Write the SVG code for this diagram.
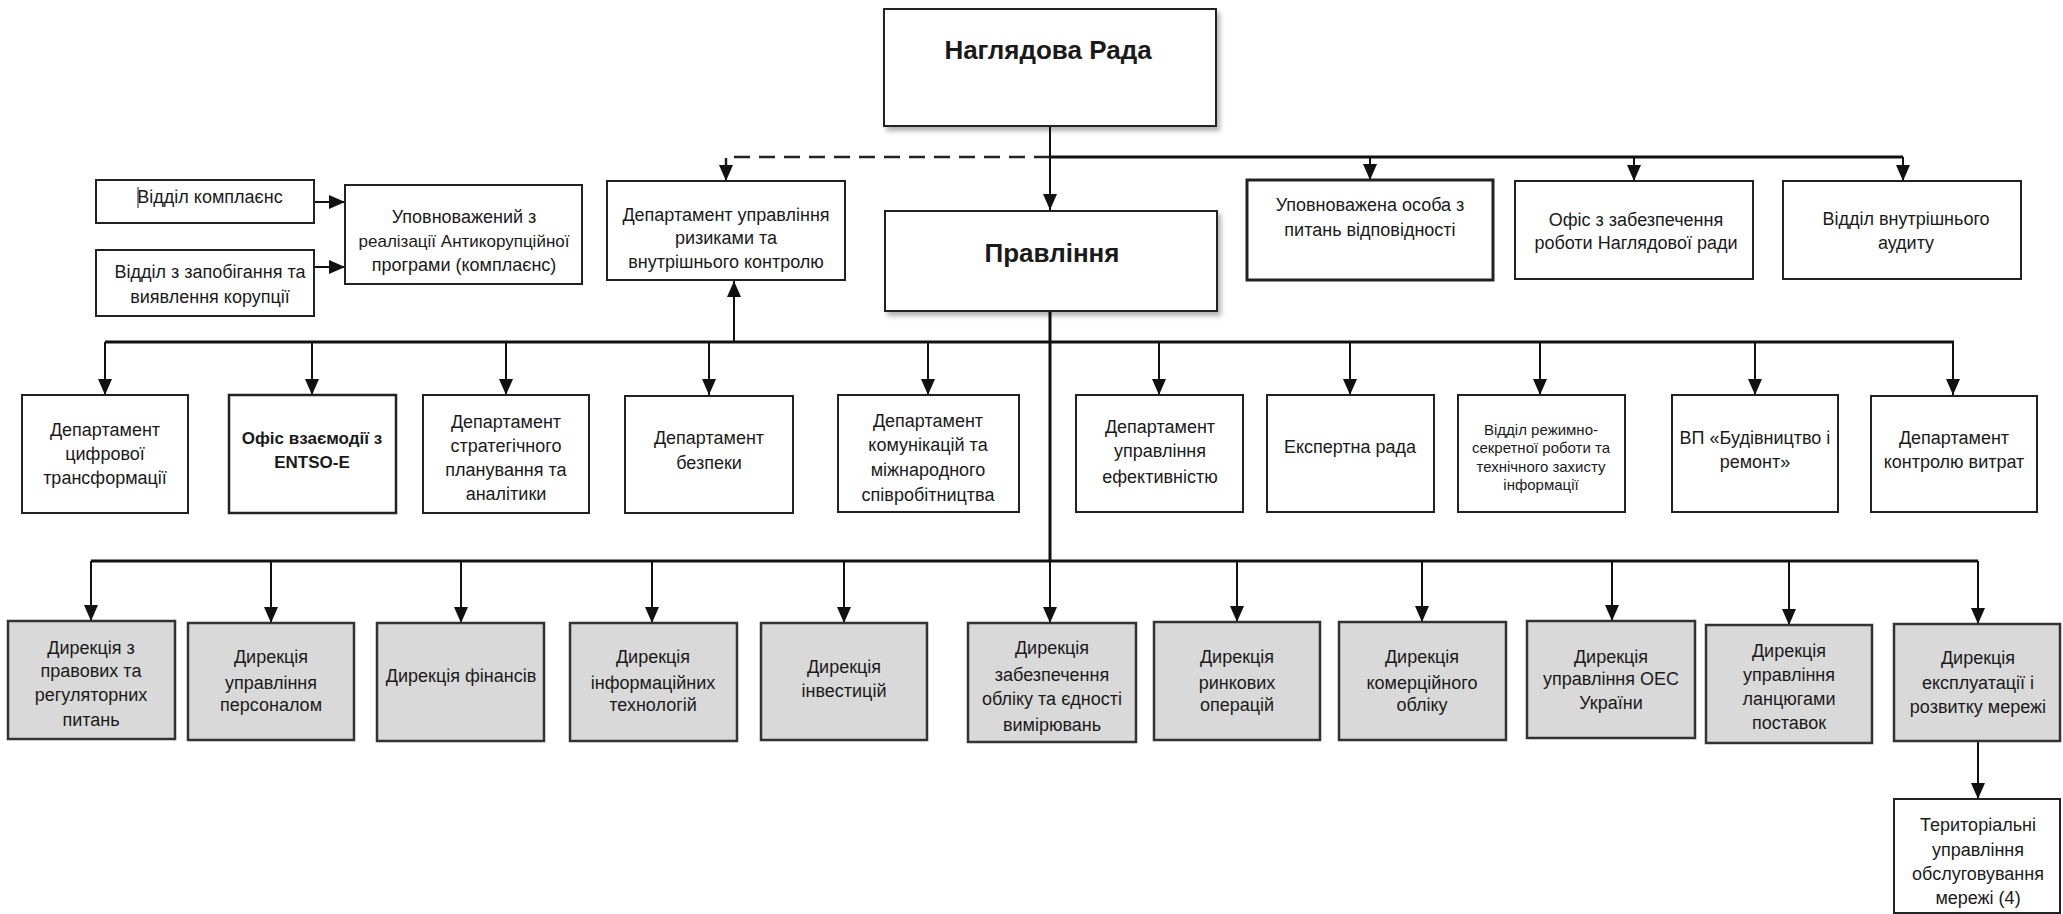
<svg xmlns="http://www.w3.org/2000/svg" width="2063" height="914" viewBox="0 0 2063 914">
<style>
.box{fill:#fff;stroke:#222;stroke-width:2}
.thick{stroke-width:3}
.gbox{fill:#d9d9d9;stroke:#333;stroke-width:2.5}
.t{font-family:"Liberation Sans",Arial,sans-serif;font-size:18px;fill:#1a1a1a;text-anchor:middle}
.b{font-weight:bold}
.big{font-size:26px;font-weight:bold}
.sm{font-size:15px}
.c{stroke:#111;stroke-width:2;fill:none}
.bus{stroke:#111;stroke-width:3;fill:none}
.dash{stroke:#222;stroke-width:2.5;fill:none;stroke-dasharray:16 9}
</style>
<defs>
<marker id="ah" markerUnits="userSpaceOnUse" markerWidth="16" markerHeight="14" refX="16" refY="7" orient="auto" viewBox="0 0 16 14">
<path d="M0,0 L16,7 L0,14 Z" fill="#111"/>
</marker>
<filter id="sh" x="-5%" y="-5%" width="115%" height="120%">
<feDropShadow dx="3" dy="4" stdDeviation="2.5" flood-color="#000" flood-opacity="0.3"/>
</filter>
</defs>

<g id="connectors">
<line class="c" x1="1050" y1="126" x2="1050" y2="210" marker-end="url(#ah)"/>
<line class="bus" x1="1050" y1="157" x2="1903" y2="157"/>
<line class="c" x1="1370" y1="157" x2="1370" y2="180" marker-end="url(#ah)"/>
<line class="c" x1="1634" y1="157" x2="1634" y2="181" marker-end="url(#ah)"/>
<line class="c" x1="1903" y1="157" x2="1903" y2="181" marker-end="url(#ah)"/>
<path class="dash" d="M1050,157 H726 V166"/>
<line class="c" x1="726" y1="164" x2="726" y2="181" marker-end="url(#ah)"/>
<line class="c" x1="314" y1="202" x2="345" y2="202" marker-end="url(#ah)"/>
<line class="c" x1="314" y1="267" x2="345" y2="267" marker-end="url(#ah)"/>
<line class="bus" x1="1050" y1="311" x2="1050" y2="562"/>
<line class="c" x1="734" y1="342" x2="734" y2="281" marker-end="url(#ah)"/>
<line class="bus" x1="105" y1="342" x2="1954" y2="342"/>
<line class="c" x1="105" y1="342" x2="105" y2="395" marker-end="url(#ah)"/>
<line class="c" x1="312" y1="342" x2="312" y2="395" marker-end="url(#ah)"/>
<line class="c" x1="506" y1="342" x2="506" y2="395" marker-end="url(#ah)"/>
<line class="c" x1="709" y1="342" x2="709" y2="395" marker-end="url(#ah)"/>
<line class="c" x1="928" y1="342" x2="928" y2="395" marker-end="url(#ah)"/>
<line class="c" x1="1159" y1="342" x2="1159" y2="395" marker-end="url(#ah)"/>
<line class="c" x1="1350" y1="342" x2="1350" y2="395" marker-end="url(#ah)"/>
<line class="c" x1="1540" y1="342" x2="1540" y2="395" marker-end="url(#ah)"/>
<line class="c" x1="1755" y1="342" x2="1755" y2="395" marker-end="url(#ah)"/>
<line class="c" x1="1953" y1="342" x2="1953" y2="395" marker-end="url(#ah)"/>
<line class="bus" x1="91" y1="561" x2="1978" y2="561"/>
<line class="c" x1="91" y1="561" x2="91" y2="621" marker-end="url(#ah)"/>
<line class="c" x1="271" y1="561" x2="271" y2="623" marker-end="url(#ah)"/>
<line class="c" x1="461" y1="561" x2="461" y2="623" marker-end="url(#ah)"/>
<line class="c" x1="652" y1="561" x2="652" y2="623" marker-end="url(#ah)"/>
<line class="c" x1="844" y1="561" x2="844" y2="623" marker-end="url(#ah)"/>
<line class="c" x1="1050" y1="561" x2="1050" y2="623" marker-end="url(#ah)"/>
<line class="c" x1="1237" y1="561" x2="1237" y2="622" marker-end="url(#ah)"/>
<line class="c" x1="1422" y1="561" x2="1422" y2="622" marker-end="url(#ah)"/>
<line class="c" x1="1612" y1="561" x2="1612" y2="621" marker-end="url(#ah)"/>
<line class="c" x1="1789" y1="561" x2="1789" y2="625" marker-end="url(#ah)"/>
<line class="c" x1="1978" y1="561" x2="1978" y2="624" marker-end="url(#ah)"/>
<line class="c" x1="1978" y1="741" x2="1978" y2="799" marker-end="url(#ah)"/>
</g>

<g id="n-naglyadova"><rect class="box" x="884" y="9" width="332" height="117" filter="url(#sh)"/><text class="t big" x="1048" y="59">Наглядова Рада</text></g>
<g id="n-pravlinnya"><rect class="box" x="885" y="211" width="332" height="100" filter="url(#sh)"/><text class="t big" x="1052" y="262">Правління</text></g>

<g id="n-kompl"><rect class="box" x="96" y="180" width="218" height="43"/><line x1="138" y1="187" x2="138" y2="208" stroke="#444" stroke-width="1.2"/><text class="t" x="210" y="203">Відділ комплаєнс</text></g>
<g id="n-korup"><rect class="box" x="96" y="250" width="218" height="66"/><text class="t" x="210" y="278">Відділ з запобігання та</text><text class="t" x="210" y="303">виявлення корупції</text></g>
<g id="n-upovn"><rect class="box" x="345" y="185" width="237" height="99"/><text class="t" x="464" y="223">Уповноважений з</text><text class="t" x="464" y="247" style="font-size:17px">реалізації Антикорупційної</text><text class="t" x="464" y="271">програми (комплаєнс)</text></g>
<g id="n-risk"><rect class="box" x="607" y="181" width="238" height="99"/><text class="t" x="726" y="221">Департамент управління</text><text class="t" x="726" y="244">ризиками та</text><text class="t" x="726" y="268">внутрішнього контролю</text></g>

<g id="n-osoba"><rect class="box thick" x="1247" y="180" width="246" height="100"/><text class="t" x="1370" y="211">Уповноважена особа з</text><text class="t" x="1370" y="236">питань відповідності</text></g>
<g id="n-ofis"><rect class="box" x="1515" y="181" width="238" height="98"/><text class="t" x="1636" y="226">Офіс з забезпечення</text><text class="t" x="1636" y="249">роботи Наглядової ради</text></g>
<g id="n-audit"><rect class="box" x="1783" y="181" width="238" height="98"/><text class="t" x="1906" y="225">Відділ внутрішнього</text><text class="t" x="1906" y="249">аудиту</text></g>

<g id="d1"><rect class="box" x="22" y="395" width="166" height="118"/><text class="t" x="105" y="436">Департамент</text><text class="t" x="105" y="460">цифрової</text><text class="t" x="105" y="484">трансформації</text></g>
<g id="d2"><rect class="box" x="229" y="395" width="167" height="118" style="stroke-width:2.5"/><text class="t b" x="312" y="444" style="font-size:17px">Офіс взаємодії з</text><text class="t b" x="312" y="468" style="font-size:17px">ENTSO-E</text></g>
<g id="d3"><rect class="box" x="423" y="395" width="166" height="118"/><text class="t" x="506" y="428">Департамент</text><text class="t" x="506" y="452">стратегічного</text><text class="t" x="506" y="476">планування та</text><text class="t" x="506" y="500">аналітики</text></g>
<g id="d4"><rect class="box" x="625" y="396" width="168" height="117"/><text class="t" x="709" y="444">Департамент</text><text class="t" x="709" y="469">безпеки</text></g>
<g id="d5"><rect class="box" x="838" y="395" width="181" height="117"/><text class="t" x="928" y="427">Департамент</text><text class="t" x="928" y="451">комунікацій та</text><text class="t" x="928" y="476">міжнародного</text><text class="t" x="928" y="501">співробітництва</text></g>
<g id="d6"><rect class="box" x="1076" y="395" width="167" height="117"/><text class="t" x="1160" y="433">Департамент</text><text class="t" x="1160" y="457">управління</text><text class="t" x="1160" y="483">ефективністю</text></g>
<g id="d7"><rect class="box" x="1267" y="395" width="167" height="117"/><text class="t" x="1350" y="453">Експертна рада</text></g>
<g id="d8"><rect class="box" x="1458" y="395" width="167" height="117"/><text class="t sm" x="1541" y="435">Відділ режимно-</text><text class="t sm" x="1541" y="453">секретної роботи та</text><text class="t sm" x="1541" y="472">технічного захисту</text><text class="t sm" x="1541" y="490">інформації</text></g>
<g id="d9"><rect class="box" x="1672" y="395" width="166" height="117"/><text class="t" x="1755" y="444">ВП «Будівництво і</text><text class="t" x="1755" y="468">ремонт»</text></g>
<g id="d10"><rect class="box" x="1871" y="396" width="166" height="116"/><text class="t" x="1954" y="444">Департамент</text><text class="t" x="1954" y="468">контролю витрат</text></g>

<g id="r1"><rect class="gbox" x="8" y="621" width="167" height="118"/><text class="t" x="91" y="654">Дирекція з</text><text class="t" x="91" y="677">правових та</text><text class="t" x="91" y="701">регуляторних</text><text class="t" x="91" y="726">питань</text></g>
<g id="r2"><rect class="gbox" x="188" y="623" width="166" height="117"/><text class="t" x="271" y="663">Дирекція</text><text class="t" x="271" y="689">управління</text><text class="t" x="271" y="711">персоналом</text></g>
<g id="r3"><rect class="gbox" x="377" y="623" width="167" height="118"/><text class="t" x="461" y="682">Дирекція фінансів</text></g>
<g id="r4"><rect class="gbox" x="570" y="623" width="167" height="118"/><text class="t" x="653" y="663">Дирекція</text><text class="t" x="653" y="689">інформаційних</text><text class="t" x="653" y="711">технологій</text></g>
<g id="r5"><rect class="gbox" x="761" y="623" width="166" height="117"/><text class="t" x="844" y="673">Дирекція</text><text class="t" x="844" y="697">інвестицій</text></g>
<g id="r6"><rect class="gbox" x="968" y="623" width="168" height="119"/><text class="t" x="1052" y="654">Дирекція</text><text class="t" x="1052" y="681">забезпечення</text><text class="t" x="1052" y="705">обліку та єдності</text><text class="t" x="1052" y="731">вимірювань</text></g>
<g id="r7"><rect class="gbox" x="1154" y="622" width="166" height="118"/><text class="t" x="1237" y="663">Дирекція</text><text class="t" x="1237" y="689">ринкових</text><text class="t" x="1237" y="711">операцій</text></g>
<g id="r8"><rect class="gbox" x="1339" y="622" width="167" height="118"/><text class="t" x="1422" y="663">Дирекція</text><text class="t" x="1422" y="689">комерційного</text><text class="t" x="1422" y="711">обліку</text></g>
<g id="r9"><rect class="gbox" x="1527" y="621" width="168" height="117"/><text class="t" x="1611" y="663">Дирекція</text><text class="t" x="1611" y="685">управління ОЕС</text><text class="t" x="1611" y="709">України</text></g>
<g id="r10"><rect class="gbox" x="1706" y="625" width="166" height="118"/><text class="t" x="1789" y="657">Дирекція</text><text class="t" x="1789" y="681">управління</text><text class="t" x="1789" y="705">ланцюгами</text><text class="t" x="1789" y="729">поставок</text></g>
<g id="r11"><rect class="gbox" x="1894" y="624" width="166" height="117"/><text class="t" x="1978" y="664">Дирекція</text><text class="t" x="1978" y="689">експлуатації і</text><text class="t" x="1978" y="713">розвитку мережі</text></g>
<g id="terr"><rect class="box" x="1894" y="799" width="166" height="114"/><text class="t" x="1978" y="831">Територіальні</text><text class="t" x="1978" y="856">управління</text><text class="t" x="1978" y="880">обслуговування</text><text class="t" x="1978" y="904">мережі (4)</text></g>
</svg>
